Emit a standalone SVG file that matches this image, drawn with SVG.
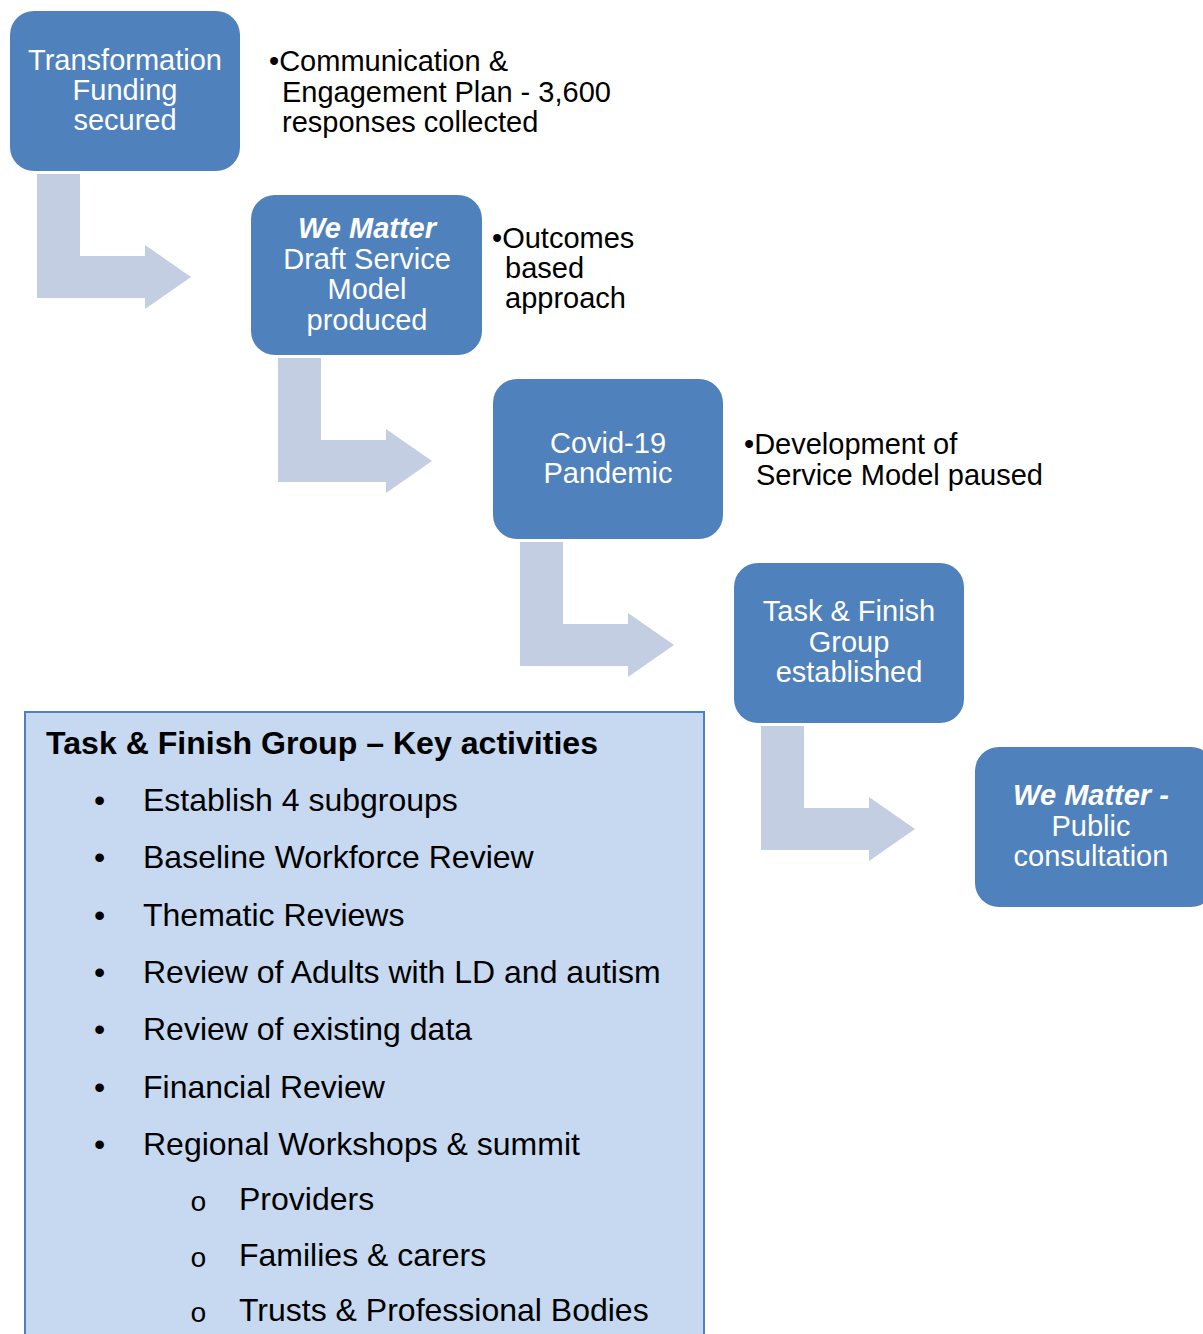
<svg xmlns="http://www.w3.org/2000/svg" width="1203" height="1334" viewBox="0 0 1203 1334">
<style>
.node{fill:#4F81BD;}
.nt{font-family:"Liberation Sans",Arial,sans-serif;font-size:29px;fill:#fff;text-anchor:middle;}
.bi{font-weight:bold;font-style:italic;}
.arrow{fill:#C3CEE2;}
.side{font-family:"Liberation Sans",Arial,sans-serif;font-size:29px;fill:#000;}
.list{font-family:"Liberation Sans",Arial,sans-serif;font-size:32px;fill:#000;}
.head{font-family:"Liberation Sans Narrow","Liberation Sans",Arial,sans-serif;font-size:32px;font-weight:bold;fill:#000;}
</style>
<defs>
<path id="bent" d="M0,0 H43 V82 H108 V71 L154,103 L108,135 V124 H0 Z"/>
</defs>
<rect width="1203" height="1334" fill="#fff"/>
<g id="connectors">
<use href="#bent" class="arrow" x="37" y="174"/>
<use href="#bent" class="arrow" x="278" y="358"/>
<use href="#bent" class="arrow" x="520" y="542"/>
<use href="#bent" class="arrow" x="761" y="726"/>
</g>
<g id="node1">
<rect class="node" x="10" y="11" width="230" height="160" rx="24"/>
<text class="nt" x="125" y="70">Transformation</text>
<text class="nt" x="125" y="100">Funding</text>
<text class="nt" x="125" y="130">secured</text>
</g>
<g id="node2">
<rect class="node" x="251" y="195" width="231" height="160" rx="24"/>
<text class="nt bi" x="367" y="238">We Matter</text>
<text class="nt" x="367" y="269">Draft Service</text>
<text class="nt" x="367" y="299">Model</text>
<text class="nt" x="367" y="330">produced</text>
</g>
<g id="node3">
<rect class="node" x="493" y="379" width="230" height="160" rx="24"/>
<text class="nt" x="608" y="453">Covid-19</text>
<text class="nt" x="608" y="483">Pandemic</text>
</g>
<g id="node4">
<rect class="node" x="734" y="563" width="230" height="160" rx="24"/>
<text class="nt" x="849" y="621">Task &amp; Finish</text>
<text class="nt" x="849" y="652">Group</text>
<text class="nt" x="849" y="682">established</text>
</g>
<g id="node5">
<rect class="node" x="975" y="747" width="240" height="160" rx="24"/>
<text class="nt bi" x="1091" y="805">We Matter -</text>
<text class="nt" x="1091" y="836">Public</text>
<text class="nt" x="1091" y="866">consultation</text>
</g>
<g id="note1">
<text class="side" x="269" y="71">•Communication &amp;</text>
<text class="side" x="282" y="102">Engagement Plan - 3,600</text>
<text class="side" x="282" y="132">responses collected</text>
</g>
<g id="note2">
<text class="side" x="492" y="248">•Outcomes</text>
<text class="side" x="505" y="278">based</text>
<text class="side" x="505" y="308">approach</text>
</g>
<g id="note3">
<text class="side" x="744" y="454">•Development of</text>
<text class="side" x="756" y="485">Service Model paused</text>
</g>
<g id="activities">
<rect x="25" y="712" width="679" height="640" fill="#C6D9F1" stroke="#4F81BD" stroke-width="2"/>
<text class="head" x="46" y="754" textLength="552" lengthAdjust="spacingAndGlyphs">Task &amp; Finish Group – Key activities</text>
<g class="list">
<text x="94" y="811">•</text><text x="143" y="811">Establish 4 subgroups</text>
<text x="94" y="868">•</text><text x="143" y="868">Baseline Workforce Review</text>
<text x="94" y="926">•</text><text x="143" y="926">Thematic Reviews</text>
<text x="94" y="983">•</text><text x="143" y="983">Review of Adults with LD and autism</text>
<text x="94" y="1040">•</text><text x="143" y="1040">Review of existing data</text>
<text x="94" y="1098">•</text><text x="143" y="1098">Financial Review</text>
<text x="94" y="1155">•</text><text x="143" y="1155">Regional Workshops &amp; summit</text>
<text x="190" y="1211" style="font-family:'Liberation Mono',monospace;font-size:28px">o</text><text x="239" y="1210">Providers</text>
<text x="190" y="1267" style="font-family:'Liberation Mono',monospace;font-size:28px">o</text><text x="239" y="1266">Families &amp; carers</text>
<text x="190" y="1322" style="font-family:'Liberation Mono',monospace;font-size:28px">o</text><text x="239" y="1321">Trusts &amp; Professional Bodies</text>
</g>
</g>
</svg>
